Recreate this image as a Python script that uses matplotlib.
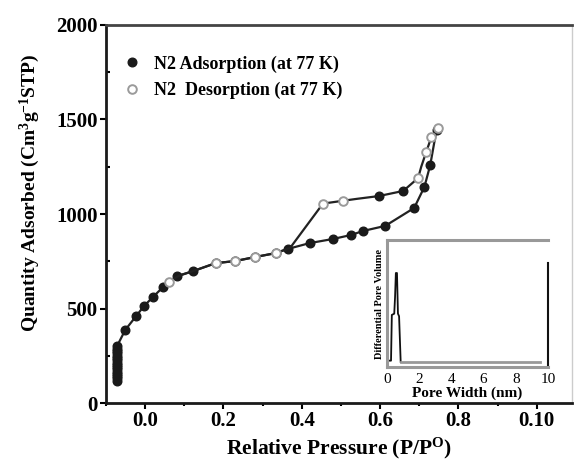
import numpy as np
import matplotlib
matplotlib.use("Agg")
import matplotlib.pyplot as plt
from matplotlib.lines import Line2D
from matplotlib.ticker import MultipleLocator, FixedLocator

plt.rcParams['font.family'] = ['Liberation Serif', 'DejaVu Serif']
plt.rcParams['font.weight'] = 'bold'
plt.rcParams['axes.labelweight'] = 'bold'
plt.rcParams['mathtext.fontset'] = 'custom'
plt.rcParams['mathtext.rm'] = 'Liberation Serif:bold'
plt.rcParams['mathtext.default'] = 'rm'

# ==========================================
# N2 isotherm data
# ==========================================
# adsorption branch: first block is the dense stack at very low pressure
ads_p = [-0.072] * 16 + [-0.051, -0.023, -0.003, 0.020, 0.046, 0.082, 0.123,
                         0.180, 0.230, 0.280, 0.333, 0.364, 0.420, 0.480,
                         0.526, 0.556, 0.613, 0.687, 0.713, 0.728, 0.744]
ads_q = [118, 130, 142, 154, 166, 178, 190, 202, 214, 226, 238, 250, 262,
         274, 286, 300,
         386, 460, 513, 561, 614, 672, 698,
         740, 751, 772, 793, 815, 846, 868,
         889, 910, 937, 1032, 1143, 1259, 1445]

# desorption branch (high -> low pressure)
des_p = [0.749, 0.731, 0.718, 0.705, 0.697, 0.659, 0.597, 0.540, 0.505,
         0.454, 0.370, 0.333, 0.280, 0.230, 0.180, 0.125, 0.085, 0.060]
des_q = [1455, 1407, 1330, 1250, 1190, 1122, 1095, 1080, 1070,
         1055, 820, 793, 772, 751, 740, 700, 672, 640]
des_open = [0, 1, 2, 4, 8, 9, 11, 12, 13, 14, 17]   # drawn as hollow markers
des_dark = [5, 6]                                  # drawn as solid markers

# inset: pore size distribution
pore_w = [0.15, 0.25, 0.30, 0.45, 0.50, 0.55, 0.62, 0.68, 0.75, 0.85]
pore_v = [0.05, 0.05, 0.41, 0.42, 0.55, 0.74, 0.74, 0.42, 0.40, 0.04]
base_w = [0.85, 9.5]
base_v = [0.04, 0.04]

x_ticks = [0.0, 0.2, 0.4, 0.6, 0.8, 1.0]
x_tick_labels = ['0.0', '0.2', '0.4', '0.6', '0.8', '0.10']
y_ticks = [0, 500, 1000, 1500, 2000]

W, H = 574, 461
fig = plt.figure(figsize=(W / 100, H / 100), dpi=100)
ax = fig.add_axes([106 / W, (H - 403) / H, (572 - 106) / W, (403 - 25) / H])

ax.plot(ads_p, ads_q, color='#222222', lw=1.6, marker='o', ms=6.2,
        mfc='#1a1a1a', mec='#1a1a1a', zorder=2)
ax.plot(des_p, des_q, color='#222222', lw=1.6, zorder=3)
ax.plot(np.array(des_p)[des_open], np.array(des_q)[des_open], ls='none',
        marker='o', ms=6.2, mfc='white', mec='#9a9a9a', mew=1.4, zorder=4)
ax.plot(np.array(des_p)[des_dark], np.array(des_q)[des_dark], ls='none',
        marker='o', ms=6.2, mfc='#1a1a1a', mec='#1a1a1a', zorder=4)

ax.set_xlim(-0.1, 1.09)
ax.set_ylim(0, 2000)
ax.xaxis.set_major_locator(FixedLocator(x_ticks))
ax.set_xticklabels(x_tick_labels)
ax.xaxis.set_minor_locator(MultipleLocator(0.1))
ax.yaxis.set_major_locator(FixedLocator(y_ticks))
ax.yaxis.set_minor_locator(MultipleLocator(250))
ax.tick_params(which='major', direction='out', length=4, width=1.5, pad=2)
ax.tick_params(axis='y', labelsize=15)
ax.tick_params(axis='x', labelsize=15)
ax.tick_params(axis='y', which='minor', direction='in', length=3, width=1.5)
ax.tick_params(axis='x', which='minor', direction='out', length=2.5, width=1.5)

for s in ['left', 'bottom']:
    ax.spines[s].set_linewidth(2.0)
    ax.spines[s].set_color('#1a1a1a')
ax.spines['top'].set_linewidth(2.0)
ax.spines['top'].set_color('#444444')
ax.spines['right'].set_linewidth(1.0)
ax.spines['right'].set_color('#cccccc')

ax.set_xlabel(r'Relative Pressure (P/P$^{\rm O}$)', fontsize=15.5, labelpad=3)
ax.set_ylabel(r'Quantity Adsorbed (Cm$^{3}$g$^{-1}$STP)', fontsize=14)
ax.yaxis.set_label_coords(-0.138, 0.556)

handles = [Line2D([], [], ls='none', marker='o', ms=6.2, mfc='#1a1a1a',
                  mec='#1a1a1a'),
           Line2D([], [], ls='none', marker='o', ms=6.2, mfc='white',
                  mec='#9a9a9a', mew=1.4)]
ax.legend(handles, ['N2 Adsorption (at 77 K)', 'N2  Desorption (at 77 K)'],
          loc='upper left', bbox_to_anchor=(0.04, 0.92), frameon=False,
          handlelength=0.8, handletextpad=0.8, labelspacing=0.5,
          borderaxespad=0, borderpad=0, fontsize=13)

# ==========================================
# inset
# ==========================================
ins = fig.add_axes([387 / W, (H - 367) / H, (548 - 387) / W, (367 - 240) / H])
ins.plot(pore_w, pore_v, color='#111111', lw=1.3)
ins.plot(base_w, base_v, color='#999999', lw=2.0)
ins.set_xlim(0, 10)
ins.set_ylim(0, 1)
ins.set_xticks([0, 2, 4, 6, 8, 10])
ins.set_yticks([])
ins.tick_params(axis='x', length=0, labelsize=11, pad=4)
for lab in ins.get_xticklabels():
    lab.set_fontweight('normal')
for s in ins.spines.values():
    s.set_color('#999999')
    s.set_linewidth(2.2)
ins.spines['right'].set_color('#111111')
ins.spines['right'].set_linewidth(1.5)
ins.spines['right'].set_bounds(0, 0.82)
ins.set_xlabel('Pore Width (nm)', fontsize=11, labelpad=1)
ins.set_ylabel('Differential Pore Volume', fontsize=7.5, labelpad=2)

fig.savefig('out.png', dpi=100)
